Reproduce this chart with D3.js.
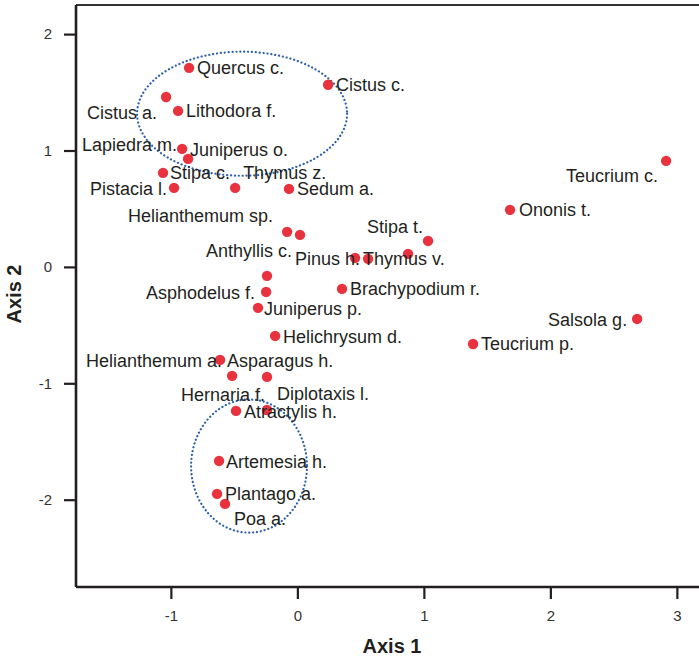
<!DOCTYPE html>
<html>
<head>
<meta charset="utf-8">
<script src="https://cdn.jsdelivr.net/npm/d3@7"></script>
<style>
  html, body { margin: 0; padding: 0; background: #fff; }
  svg { display: block; font-family: "Liberation Sans", Arial, Helvetica, sans-serif; }
</style>
</head>
<body>
<svg id="chart" width="699" height="658"></svg>
<script>
// ---- data ----
const species = [
  "Quercus c.", "Cistus c.", "Cistus a.", "Lithodora f.", "Lapiedra m.", "Juniperus o.",
  "Stipa c.", "Pistacia l.", "Thymus z.", "Sedum a.", "Helianthemum sp.", "Anthyllis c.",
  "", "Asphodelus f.", "Juniperus p.", "Brachypodium r.", "Pinus h.", "Thymus v.", "",
  "Stipa t.", "Helichrysum d.", "Helianthemum a.", "Asparagus h.", "Diplotaxis l.",
  "Atractylis h.", "Hernaria f.", "Artemesia h.", "Plantago a.", "Poa a.",
  "Teucrium c.", "Ononis t.", "Salsola g.", "Teucrium p."
];
const axis1 = [
  -0.856, 0.243, -1.038, -0.943, -0.911, -0.864,
  -1.062, -0.975, -0.492, -0.066, -0.081, 0.021,
  -0.240, -0.247, -0.311, 0.353, 0.456, 0.559, 0.875,
  1.033, -0.176, -0.611, -0.516, -0.240,
  -0.485, -0.240, -0.619, -0.635, -0.572,
  2.915, 1.681, 2.686, 1.389
];
const axis2 = [
  1.710, 1.565, 1.460, 1.340, 1.014, 0.928,
  0.808, 0.679, 0.679, 0.670, 0.301, 0.275,
  -0.077, -0.215, -0.352, -0.189, 0.077, 0.069, 0.112,
  0.223, -0.593, -0.799, -0.936, -0.945,
  -1.237, -1.229, -1.667, -1.950, -2.036,
  0.911, 0.490, -0.447, -0.662
];
const xTicks = [-1, 0, 1, 2, 3];
const yTicks = [-2, -1, 0, 1, 2];
// groups circled: centre and radii in axis units
const groupCentre1 = [-0.437, -0.382];
const groupCentre2 = [1.316, -1.711];
const groupRadius1 = [0.83, 0.458];
const groupRadius2 = [0.533, 0.572];

// ---- label placement (layout only): [anchor, dx px, dy px] ----
const labelPlace = [
  ["start", 8, 0], ["start", 8, 0], ["end", -9, 16], ["start", 8, 0], ["end", -5, -4], ["start", 2, -9],
  ["start", 7, 0], ["end", -7, 1], ["start", 8, -15], ["start", 8, 0], ["end", -14, -16], ["end", -8, 16],
  ["start", 0, 0], ["end", -11, 1], ["start", 6, 1], ["start", 8, 0], ["end", 5, 1], ["start", -5, 0], ["start", 0, 0],
  ["end", -5, -14], ["start", 8, 1], ["end", 2, 1], ["start", -5, -15], ["start", 10, 17],
  ["start", 8, 1], ["end", -2, -15], ["start", 7, 1], ["start", 8, 0], ["start", 9, 15],
  ["end", -8, 15], ["start", 9, 0], ["end", -10, 1], ["start", 8, 0]
];

const svg = d3.select("#chart");
const mLeft = 76, mRight = 699, mTop = 5, mBottom = 587;

const x = d3.scaleLinear().domain([-1.75, 3.175]).range([mLeft, mRight]);
const y = d3.scaleLinear().domain([-2.75, 2.25]).range([mBottom, mTop]);

const ink = "#231f20";

// top frame line
svg.append("line")
  .attr("x1", mLeft).attr("x2", mRight).attr("y1", mTop).attr("y2", mTop)
  .attr("stroke", "#333").attr("stroke-width", 2);

// axes
const fmt = d => String(d);
const gx = svg.append("g").attr("transform", `translate(0,${mBottom})`)
  .call(d3.axisBottom(x).tickValues(xTicks).tickSize(12).tickSizeOuter(0).tickPadding(11).tickFormat(fmt));
const gy = svg.append("g").attr("transform", `translate(${mLeft},0)`)
  .call(d3.axisLeft(y).tickValues(yTicks).tickSize(12).tickSizeOuter(0).tickPadding(12).tickFormat(fmt));

[gx, gy].forEach(g => {
  g.select(".domain").attr("stroke", ink).attr("stroke-width", 2.6);
  g.selectAll(".tick line").attr("stroke", ink).attr("stroke-width", 2.2);
  g.selectAll(".tick text").attr("fill", "#333").style("font-size", "15px")
    .style("font-family", "'Liberation Sans', Arial, sans-serif");
});
gx.select(".domain").attr("d", `M${mLeft},0H${mRight}`);
gy.select(".domain").attr("d", `M0,${mTop}V${mBottom}`);

// axis titles
svg.append("text").attr("x", 392).attr("y", 653).attr("text-anchor", "middle")
  .style("font-size", "20px").style("font-weight", "bold").attr("fill", ink).text("Axis 1");
svg.append("text").attr("transform", "translate(21,294) rotate(-90)").attr("text-anchor", "middle")
  .style("font-size", "20px").style("font-weight", "bold").attr("fill", ink).text("Axis 2");

// group ellipses
svg.append("g").selectAll("ellipse")
  .data(groupCentre1.map((c, i) => i))
  .join("ellipse")
  .attr("cx", i => x(groupCentre1[i]))
  .attr("cy", i => y(groupCentre2[i]))
  .attr("rx", i => x(groupRadius1[i]) - x(0))
  .attr("ry", i => y(0) - y(groupRadius2[i]))
  .attr("fill", "none")
  .attr("stroke", "#2d5eab")
  .attr("stroke-width", 2.2)
  .attr("stroke-linecap", "round")
  .attr("stroke-dasharray", "0.1 3.8");

const pts = species.map((s, i) => ({ name: s, a: axis1[i], b: axis2[i], lp: labelPlace[i] }));

// dots
svg.append("g").selectAll("circle").data(pts).join("circle")
  .attr("cx", d => x(d.a)).attr("cy", d => y(d.b)).attr("r", 5.2)
  .attr("fill", "#e8333f");

// labels
svg.append("g").selectAll("text").data(pts.filter(d => d.name)).join("text")
  .attr("x", d => x(d.a) + d.lp[1])
  .attr("y", d => y(d.b) + d.lp[2])
  .attr("dy", "0.35em")
  .attr("text-anchor", d => d.lp[0])
  .style("font-size", "18px")
  .attr("fill", ink)
  .text(d => d.name);
</script>
</body>
</html>
